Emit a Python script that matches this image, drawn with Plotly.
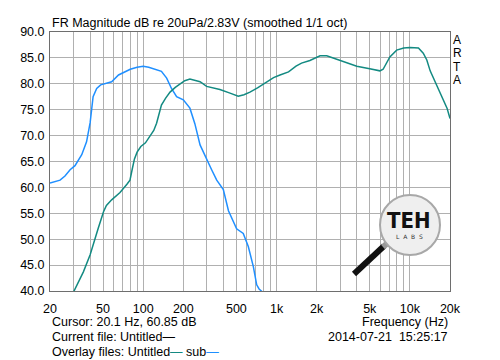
import plotly.graph_objects as go
import math

# ---- data ----
sub_freq = [20, 23.8, 25.9, 28.3, 30.8, 34.6, 37.6, 40, 42.1, 44.8, 48, 53.3, 58, 65.3, 72, 80, 90,
            100, 110, 120, 137, 150, 163, 178, 200, 224, 244, 267, 299, 326, 356, 399, 436, 470,
            502, 563, 614, 670, 710, 740, 773, 800]
sub_db = [60.85, 61.4, 62.2, 63.4, 64.2, 66.3, 68.8, 72.5, 77.5, 79.1, 79.8, 80.1, 80.4, 81.7, 82.2,
          82.8, 83.2, 83.4, 83.2, 82.9, 82.4, 81.1, 79.1, 77.5, 76.9, 75.3, 72.3, 68.2, 65.3, 63.4,
          61.4, 59.6, 55.5, 53.5, 52.0, 51.1, 48.6, 44.7, 41.2, 40.4, 40.0, 39.6]

main_freq = [29, 30.3, 35.6, 40, 43.5, 46, 50.4, 53, 58, 67, 75.5, 79.6, 82.7, 86, 90, 96, 104, 112.5,
             120, 126, 132, 137, 147, 159, 174, 189, 205, 224, 245, 267, 299, 340, 376, 448, 516,
             570, 632, 720, 843, 950, 1062, 1230, 1400, 1540, 1780, 2120, 2380, 2830, 3360, 4000,
             5000, 5960, 6300, 6700, 7080, 7960, 9000, 10000, 11600, 12600, 13400, 14200, 15900,
             17900, 19000, 20000]
main_db = [39.0, 40.0, 43.7, 47.0, 49.8, 52.1, 55.3, 56.5, 57.6, 59.0, 60.6, 61.4, 63.5, 65.5, 66.8,
           67.9, 68.6, 69.8, 71.0, 72.4, 74.5, 75.9, 77.2, 78.4, 79.3, 80.0, 80.6, 80.9, 80.7, 80.4,
           79.5, 79.2, 78.9, 78.2, 77.6, 77.9, 78.4, 79.2, 80.4, 81.2, 81.7, 82.3, 83.4, 84.0, 84.5,
           85.4, 85.4, 84.7, 84.1, 83.4, 82.9, 82.5, 82.8, 84.0, 85.2, 86.5, 86.9, 87.0, 86.9, 85.9,
           84.6, 82.5, 79.8, 76.9, 75.3, 73.3]

grid_freqs = [20, 30, 40, 50, 60, 70, 80, 90, 100, 200, 300, 400, 500, 600, 700, 800, 900,
              1000, 2000, 3000, 4000, 5000, 6000, 7000, 8000, 9000, 10000, 20000]
tick_labels = {20: "20", 50: "50", 100: "100", 200: "200", 500: "500", 1000: "1k",
               2000: "2k", 5000: "5k", 10000: "10k", 20000: "20k"}

title_text = "FR Magnitude dB re 20uPa/2.83V (smoothed 1/1 oct)"
cursor_text = "Cursor: 20.1 Hz, 60.85 dB"
current_text = "Current file: Untitled—"
freq_label = "Frequency (Hz)"
date_text = "2014-07-21  15:25:17"

BLUE = "#1f8fff"
TEAL = "#138a82"
FONT = "Liberation Sans, Arial, sans-serif"
FS = 12.5

fig = go.Figure()
fig.add_trace(go.Scatter(x=sub_freq, y=sub_db, mode="lines", line=dict(color=BLUE, width=1.5),
                         name="sub", hoverinfo="skip"))
fig.add_trace(go.Scatter(x=main_freq, y=main_db, mode="lines", line=dict(color=TEAL, width=1.5),
                         name="Untitled", hoverinfo="skip"))

fig.update_layout(
    width=500, height=360,
    margin=dict(l=50, r=50, t=32, b=69, autoexpand=False),
    paper_bgcolor="white", plot_bgcolor="white",
    showlegend=False,
    font=dict(family=FONT, size=FS, color="black"),
    xaxis=dict(type="log", range=[math.log10(20), math.log10(20000)], automargin=False,
               tickvals=grid_freqs, ticktext=[tick_labels.get(f, "") for f in grid_freqs],
               showgrid=True, gridcolor="#b0b0b0", gridwidth=1,
               showline=True, linecolor="#6e6e6e", linewidth=1, mirror=True,
               ticks="", ticklabelstandoff=6, zeroline=False,
               tickfont=dict(size=FS, color="black")),
    yaxis=dict(range=[40, 90], dtick=5, tick0=40, tickformat=".1f", automargin=False,
               showgrid=True, gridcolor="#b0b0b0", gridwidth=1,
               showline=True, linecolor="#6e6e6e", linewidth=1, mirror=True,
               ticks="", ticklabelstandoff=2, zeroline=False,
               tickfont=dict(size=FS, color="black")),
)

def px_x(p):
    return (p - 50) / 400.0

def px_y(p):
    return (291 - p) / 259.0

anns = []
anns.append(dict(text=title_text, x=px_x(50), y=px_y(23), xanchor="left", yanchor="middle"))
anns.append(dict(text=cursor_text, x=px_x(50), y=px_y(322), xanchor="left", yanchor="middle"))
anns.append(dict(text=current_text, x=px_x(50), y=px_y(337), xanchor="left", yanchor="middle"))
anns.append(dict(text="Overlay files: Untitled<span style='color:%s'>—</span> sub<span style='color:%s'>—</span>" % (TEAL, BLUE),
                 x=px_x(50), y=px_y(352), xanchor="left", yanchor="middle"))
anns.append(dict(text=freq_label, x=px_x(450), y=px_y(322), xanchor="right", yanchor="middle"))
anns.append(dict(text=date_text, x=px_x(450), y=px_y(337), xanchor="right", yanchor="middle"))
for i, ch in enumerate("ARTA"):
    anns.append(dict(text=ch, x=px_x(457), y=px_y(40 + i * 13.5), xanchor="center", yanchor="middle",
                     font=dict(size=12, color="black", family=FONT)))
# logo text
anns.append(dict(text="<b>TEH</b>", x=px_x(409), y=px_y(220), xanchor="center", yanchor="middle",
                 font=dict(size=22, family="DejaVu Sans Condensed, sans-serif", color="#111111")))
anns.append(dict(text="L  A  B  S", x=px_x(409), y=px_y(236), xanchor="center", yanchor="middle",
                 font=dict(size=6, family="DejaVu Sans, sans-serif", color="#333333")))
for a in anns:
    a.update(xref="paper", yref="paper", showarrow=False)
    a.setdefault("font", dict(size=FS, color="black", family=FONT))
fig.update_layout(annotations=anns)

shapes = [
    dict(type="line", x0=px_x(354), y0=px_y(274), x1=px_x(384), y1=px_y(246),
         line=dict(color="#111111", width=6)),
    dict(type="line", x0=px_x(383), y0=px_y(247), x1=px_x(390), y1=px_y(241),
         line=dict(color="#9a9a9a", width=6)),
    dict(type="circle", x0=px_x(380), y0=px_y(255), x1=px_x(440), y1=px_y(195),
         fillcolor="#efefef", line=dict(color="#a8a8a8", width=2)),
]
for s in shapes:
    s.update(xref="paper", yref="paper", layer="above")
fig.update_layout(shapes=shapes)

fig.write_html("out.html", config={"displayModeBar": False},
               post_script="document.body.style.margin='0';document.body.style.padding='0';")
